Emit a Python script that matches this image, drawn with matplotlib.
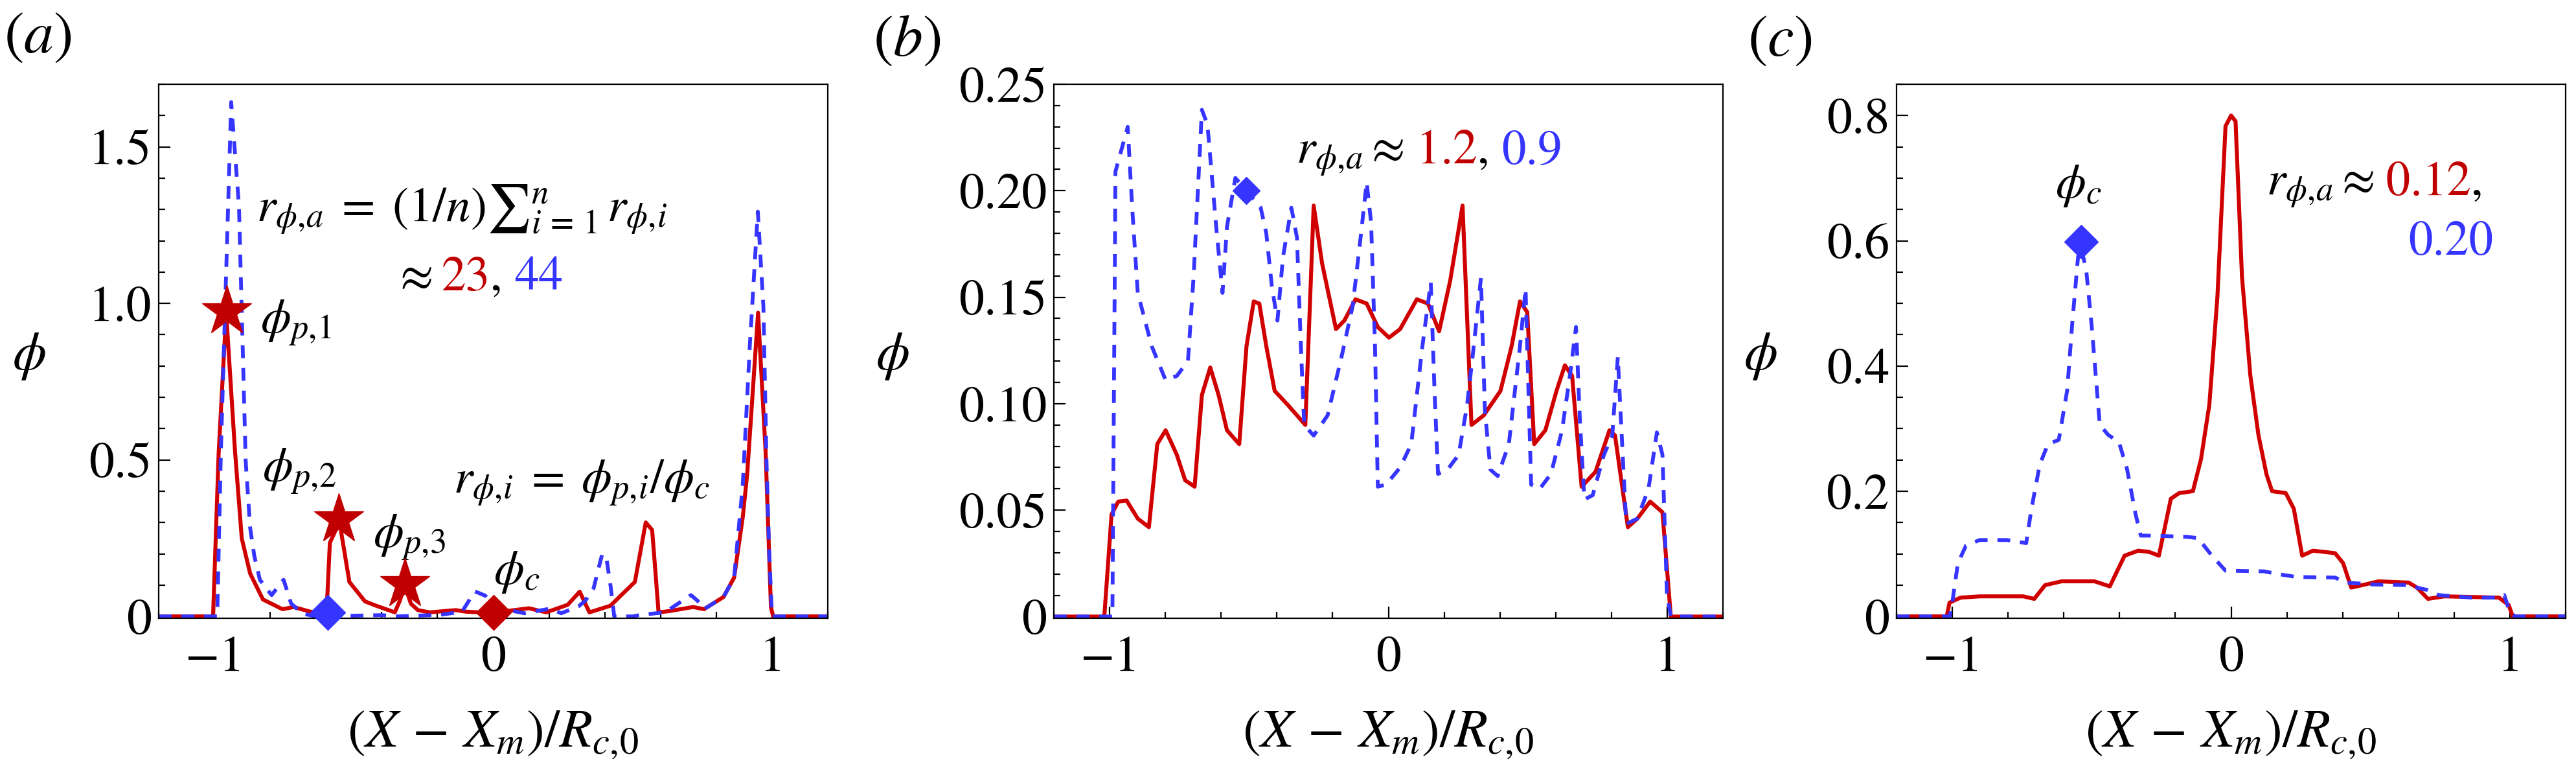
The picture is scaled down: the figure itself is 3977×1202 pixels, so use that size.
import matplotlib
matplotlib.use('Agg')
import matplotlib.pyplot as plt
from matplotlib.ticker import MultipleLocator, FixedLocator, FixedFormatter
from matplotlib.transforms import offset_copy

plt.rcParams['font.family'] = ['STIXGeneral', 'DejaVu Sans']
plt.rcParams['mathtext.fontset'] = 'stix'

RED = '#d00000'
STAR = '#c00000'
BLUE = '#3535ff'

# ---- panel (a) ----
a_red_x = [-1.2, -1.005, -0.985, -0.958, -0.926, -0.902, -0.872, -0.826, -0.756, -0.716, -0.656, -0.598,
           -0.586, -0.563, -0.553, -0.516, -0.46, -0.423, -0.353, -0.335, -0.318, -0.295, -0.27, -0.228,
           -0.135, -0.097, -0.05, 0.012, 0.128, 0.19, 0.267, 0.31, 0.345, 0.42, 0.508, 0.547, 0.57, 0.593,
           0.632, 0.717, 0.756, 0.826, 0.864, 0.895, 0.911, 0.95, 0.977, 0.996, 1.004, 1.2]
a_red_phi = [0, 0, 0.52, 0.97, 0.525, 0.249, 0.137, 0.054, 0.023, 0.03, 0.015, 0.012,
             0.235, 0.28, 0.31, 0.11, 0.048, 0.035, 0.013, 0.05, 0.1, 0.04, 0.02, 0.013,
             0.02, 0.015, 0.013, 0.013, 0.026, 0.013, 0.037, 0.079, 0.013, 0.034, 0.11, 0.30, 0.276, 0.013,
             0.017, 0.03, 0.023, 0.062, 0.124, 0.317, 0.456, 0.97, 0.525, 0.03, 0, 0]
a_blue_x = [-1.2, -0.99, -0.977, -0.94, -0.912, -0.888, -0.872, -0.857, -0.837, -0.795, -0.752, -0.725,
            -0.686, -0.64, -0.4, -0.35, -0.19, -0.112, -0.066, -0.028, 0.0, 0.112, 0.205, 0.244, 0.306,
            0.33, 0.36, 0.391, 0.407, 0.422, 0.434, 0.5, 0.53, 0.616, 0.709, 0.733, 0.756, 0.826, 0.864,
            0.895, 0.92, 0.949, 0.969, 0.98, 0.99, 1.0, 1.2]
a_blue_phi = [0, 0, 0.525, 1.643, 1.31, 0.497, 0.283, 0.193, 0.117, 0.068, 0.117, 0.041,
              0.01, 0, 0.004, 0, 0.005, 0.015, 0.08, 0.066, 0.03, 0.01, 0.025, 0.01, 0.032,
              0.05, 0.09, 0.20, 0.18, 0.09, 0, 0, 0.005, 0.013, 0.068, 0.05, 0.023, 0.062, 0.124,
              0.42, 0.86, 1.293, 0.99, 0.5, 0.2, 0, 0]
a_star_x = [-0.955, -0.554, -0.318]
a_star_phi = [0.975, 0.311, 0.103]

# ---- panel (b) ----
b_red_x = [-1.2, -1.019, -0.993, -0.969, -0.939, -0.899, -0.859, -0.829, -0.799, -0.759, -0.729, -0.695,
           -0.669, -0.639, -0.609, -0.579, -0.535, -0.509, -0.483, -0.463, -0.438, -0.408, -0.358, -0.298,
           -0.268, -0.238, -0.188, -0.158, -0.118, -0.078, -0.038, 0.002, 0.042, 0.102, 0.142, 0.182, 0.222,
           0.266, 0.298, 0.342, 0.402, 0.442, 0.472, 0.498, 0.523, 0.563, 0.603, 0.633, 0.659, 0.693, 0.743,
           0.793, 0.813, 0.859, 0.893, 0.939, 0.983, 1.013, 1.2]
b_red_phi = [0, 0, 0.048, 0.054, 0.0545, 0.046, 0.042, 0.081, 0.0875, 0.076, 0.064, 0.061,
             0.104, 0.117, 0.104, 0.0875, 0.081, 0.127, 0.148, 0.147, 0.127, 0.106, 0.099, 0.09,
             0.193, 0.166, 0.135, 0.139, 0.149, 0.147, 0.136, 0.131, 0.135, 0.149, 0.147, 0.134, 0.158,
             0.193, 0.09, 0.0945, 0.106, 0.127, 0.148, 0.143, 0.081, 0.0875, 0.106, 0.118, 0.113, 0.061, 0.068,
             0.0875, 0.085, 0.042, 0.046, 0.054, 0.049, 0, 0]
b_blue_x = [-1.2, -0.99, -0.979, -0.935, -0.919, -0.899, -0.849, -0.799, -0.759, -0.719, -0.699, -0.669,
            -0.649, -0.619, -0.595, -0.579, -0.549, -0.509, -0.458, -0.438, -0.418, -0.398, -0.378, -0.348,
            -0.328, -0.314, -0.302, -0.268, -0.218, -0.168, -0.128, -0.098, -0.078, -0.062, -0.048, -0.038,
            -0.008, 0.042, 0.082, 0.122, 0.152, 0.166, 0.178, 0.212, 0.252, 0.282, 0.302, 0.332, 0.346,
            0.366, 0.392, 0.432, 0.472, 0.492, 0.512, 0.543, 0.583, 0.623, 0.653, 0.673, 0.687, 0.703,
            0.733, 0.773, 0.803, 0.823, 0.833, 0.853, 0.893, 0.933, 0.963, 0.983, 0.999, 1.013, 1.2]
b_blue_phi = [0, 0, 0.209, 0.23, 0.192, 0.152, 0.127, 0.111, 0.113, 0.12, 0.159, 0.238,
              0.231, 0.185, 0.152, 0.183, 0.206, 0.20, 0.192, 0.18, 0.155, 0.139, 0.169, 0.192,
              0.178, 0.127, 0.09, 0.085, 0.0945, 0.122, 0.146, 0.18, 0.204, 0.185, 0.127, 0.061,
              0.062, 0.07, 0.081, 0.127, 0.157, 0.104, 0.067, 0.069, 0.076, 0.099, 0.122, 0.159, 0.097,
              0.069, 0.066, 0.081, 0.127, 0.154, 0.062, 0.06, 0.067, 0.0875, 0.115, 0.136, 0.092, 0.055,
              0.057, 0.076, 0.085, 0.122, 0.095, 0.0435, 0.046, 0.06, 0.0865, 0.076, 0.011, 0, 0]

# ---- panel (c) ----
c_red_x = [-1.2, -1.02, -1.01, -0.97, -0.9, -0.745, -0.706, -0.667, -0.608, -0.49, -0.435, -0.382, -0.333,
           -0.294, -0.259, -0.216, -0.186, -0.137, -0.108, -0.078, -0.049, -0.02, 0.0, 0.016, 0.039, 0.069,
           0.098, 0.127, 0.147, 0.196, 0.225, 0.255, 0.294, 0.373, 0.402, 0.431, 0.471, 0.529, 0.637, 0.667,
           0.706, 0.765, 0.961, 0.996, 1.01, 1.2]
c_red_phi = [0, 0, 0.022, 0.03, 0.032, 0.032, 0.028, 0.05, 0.056, 0.056, 0.048, 0.097, 0.105,
             0.103, 0.097, 0.188, 0.197, 0.20, 0.251, 0.338, 0.511, 0.783, 0.80, 0.791, 0.543, 0.385,
             0.29, 0.227, 0.20, 0.197, 0.172, 0.097, 0.105, 0.101, 0.085, 0.046, 0.05, 0.056, 0.054, 0.046,
             0.028, 0.032, 0.03, 0.018, 0, 0]
c_blue_x = [-1.2, -1.01, -1.0, -0.98, -0.951, -0.902, -0.804, -0.735, -0.716, -0.686, -0.657, -0.618, -0.588,
            -0.569, -0.549, -0.539, -0.52, -0.5, -0.471, -0.441, -0.402, -0.373, -0.343, -0.324, -0.275,
            -0.157, -0.118, -0.069, -0.02, 0.118, 0.176, 0.235, 0.373, 0.412, 0.51, 0.627, 0.706, 0.745,
            0.863, 0.961, 0.98, 1.0, 1.02, 1.2]
c_blue_phi = [0, 0, 0.022, 0.085, 0.113, 0.122, 0.122, 0.117, 0.172, 0.243, 0.275, 0.282, 0.361,
              0.472, 0.574, 0.59, 0.555, 0.464, 0.306, 0.29, 0.278, 0.235, 0.164, 0.129, 0.129,
              0.127, 0.125, 0.097, 0.073, 0.072, 0.067, 0.063, 0.062, 0.054, 0.051, 0.05, 0.042, 0.034,
              0.03, 0.03, 0.034, 0.006, 0, 0]

W, H = 3977, 1202
fig = plt.figure(figsize=(W / 100, H / 100), dpi=100)
renderer = fig.canvas.get_renderer()

TICK_FS = 56
LAB_FS = 60
ANN_FS = 54


def make_axes(left_px, ylim, major, minor, labels):
    ax = fig.add_axes([left_px / W, (H - 954) / H, 1033 / W, 824 / H])
    ax.set_xlim(-1.2, 1.2)
    ax.set_ylim(*ylim)
    ax.xaxis.set_major_locator(FixedLocator([-1, 0, 1]))
    ax.xaxis.set_major_formatter(FixedFormatter(['\u22121', '0', '1']))
    ax.xaxis.set_minor_locator(MultipleLocator(0.2))
    ax.yaxis.set_major_locator(FixedLocator(major))
    ax.yaxis.set_major_formatter(FixedFormatter(labels))
    ax.yaxis.set_minor_locator(MultipleLocator(minor))
    ax.tick_params(which='both', direction='in', top=False, right=False, width=1.6,
                   labelsize=TICK_FS, colors='black')
    ax.tick_params(which='major', length=13, pad=8)
    ax.tick_params(which='minor', length=7)
    ax.tick_params(axis='x', which='major', pad=20)
    for s in ax.spines.values():
        s.set_linewidth(1.6)
    ax.set_xlabel('$(X\\,-\\,X_m)/R_{c,\\!0}$', fontsize=LAB_FS)
    ax.xaxis.set_label_coords(0.5, -0.17)
    ax.set_ylabel('$\\phi$', fontsize=LAB_FS, rotation=0, va='center', ha='center')
    return ax


def curves(ax, rx, ry, bx, by):
    ax.plot(rx, ry, color=RED, lw=4.4, solid_joinstyle='round')
    ax.plot(bx, by, color=BLUE, lw=4.2, dashes=(3.4, 2.6), dash_joinstyle='round')


def colored(ax, x, y, pieces, fs=ANN_FS):
    t = ax.transData
    for s, c in pieces:
        txt = ax.text(x, y, s, color=c, transform=t, fontsize=fs, va='baseline', ha='left')
        txt.draw(renderer)
        ex = txt.get_window_extent(renderer)
        t = offset_copy(txt.get_transform(), x=ex.width, units='dots')


# (a)
ax1 = make_axes(245, (-0.006, 1.7), [0, 0.5, 1.0, 1.5], 0.1, ['0', '0.5', '1.0', '1.5'])
ax1.yaxis.set_label_coords(-0.194, 0.49)
curves(ax1, a_red_x, a_red_phi, a_blue_x, a_blue_phi)
ax1.plot(a_star_x, a_star_phi, ls='none', marker='*', ms=58, color=STAR, clip_on=False, zorder=5)
ax1.plot([-0.593], [0.012], ls='none', marker='D', ms=27, color=BLUE, clip_on=False, zorder=5)
ax1.plot([0.0], [0.012], ls='none', marker='D', ms=27, color=STAR, clip_on=False, zorder=5)
ax1.text(-0.85, 1.261, '$r_{\\phi,\\!a}\\;=\\;(1/n){\\sum}_{i\\,=\\,1}^{n}\\,r_{\\phi,\\!i}$', fontsize=ANN_FS,
         va='baseline', ha='left')
colored(ax1, -0.36, 1.042, [('$\\approx$ ', 'black'), ('23', STAR), (', ', 'black'), ('44', BLUE)])
ax1.text(-0.835, 0.936, '$\\phi_{p,\\!1}$', fontsize=ANN_FS, va='center', ha='left')
ax1.text(-0.828, 0.463, '$\\phi_{p,\\!2}$', fontsize=ANN_FS, va='center', ha='left')
ax1.text(-0.43, 0.252, '$\\phi_{p,\\!3}$', fontsize=ANN_FS, va='center', ha='left')
ax1.text(0.0, 0.141, '$\\phi_c$', fontsize=ANN_FS, va='center', ha='left')
ax1.text(-0.142, 0.427, '$r_{\\phi,\\!i}\\;=\\;\\phi_{p,\\!i}/\\phi_c$', fontsize=ANN_FS, va='center', ha='left')

# (b)
ax2 = make_axes(1627, (-0.0008, 0.25), [0, 0.05, 0.10, 0.15, 0.20, 0.25], 0.01,
                ['0', '0.05', '0.10', '0.15', '0.20', '0.25'])
ax2.yaxis.set_label_coords(-0.241, 0.49)
curves(ax2, b_red_x, b_red_phi, b_blue_x, b_blue_phi)
ax2.plot([-0.509], [0.20], ls='none', marker='D', ms=21, color=BLUE, zorder=5)
colored(ax2, -0.33, 0.2129, [('$r_{\\phi,\\!a}\\approx$', 'black'), (' 1.2', STAR), (', ', 'black'), ('0.9', BLUE)])

# (c)
ax3 = make_axes(2928, (-0.003, 0.85), [0, 0.2, 0.4, 0.6, 0.8], 0.05, ['0', '0.2', '0.4', '0.6', '0.8'])
ax3.yaxis.set_label_coords(-0.203, 0.49)
curves(ax3, c_red_x, c_red_phi, c_blue_x, c_blue_phi)
ax3.plot([-0.539], [0.598], ls='none', marker='D', ms=26, color=BLUE, zorder=5)
ax3.text(-0.63, 0.687, '$\\phi_c$', fontsize=ANN_FS, va='center', ha='left')
colored(ax3, 0.126, 0.673, [('$r_{\\phi,\\!a}\\approx$', 'black'), (' 0.12', STAR), (',', 'black')])
ax3.text(0.637, 0.578, '0.20', color=BLUE, fontsize=ANN_FS, va='baseline', ha='left')

fig.text(58 / W, 1 - 60 / H, '$(a)$', fontsize=LAB_FS + 6, ha='center', va='center')
fig.text(1400 / W, 1 - 65 / H, '$(b)$', fontsize=LAB_FS + 6, ha='center', va='center')
fig.text(2748 / W, 1 - 65 / H, '$(c)$', fontsize=LAB_FS + 6, ha='center', va='center')

fig.savefig('out.png', dpi=100)
